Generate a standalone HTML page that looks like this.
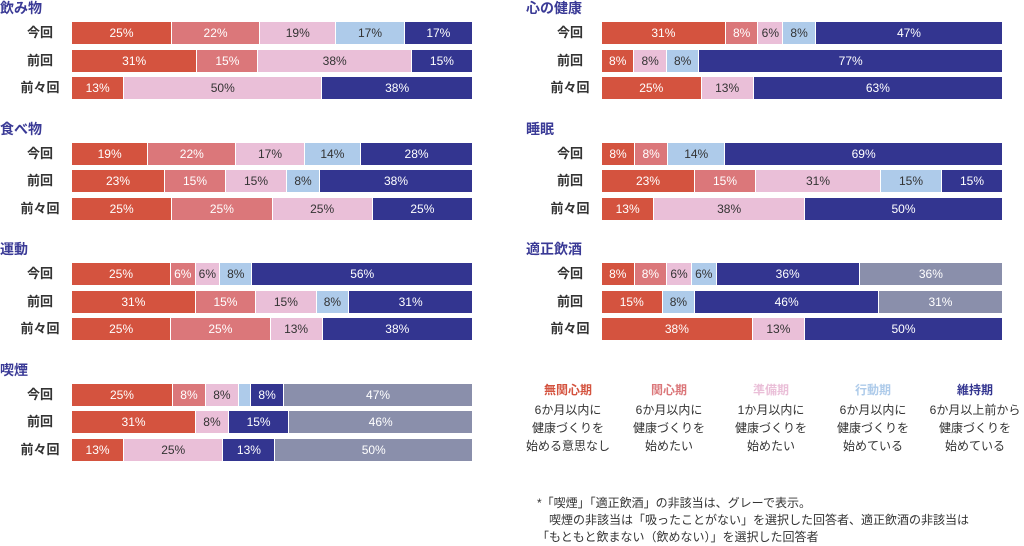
<!DOCTYPE html>
<html><head><meta charset="utf-8">
<style>
body{margin:0;width:1024px;height:545px;background:#fff;position:relative;overflow:hidden;font-family:"Liberation Sans","Noto Sans CJK JP",sans-serif;}
.t{position:absolute;font-size:14px;font-weight:bold;color:#3a3a96;line-height:16px}
.lab{position:absolute;width:60px;text-align:center;font-size:13px;font-weight:bold;color:#333;line-height:22px}
.bar{position:absolute;height:22px;display:flex;width:400px}
.bar div{height:22px;line-height:22px;text-align:center;font-size:12px;color:#fff;box-sizing:border-box;border-right:1px solid #fff;overflow:hidden;white-space:nowrap}
.bar div:last-child{border-right:none}
.r{background:#d4533f}.p{background:#db777a}.lp{background:#eabfd8;color:#333!important}.lb{background:#aecbea;color:#333!important}.n{background:#333590}.g{background:#8a8fab}
.lg{position:absolute;width:110px;text-align:center;font-size:12px;color:#333;line-height:18px}
.lg b{display:block;font-weight:bold;margin-bottom:2px}
.fn{position:absolute;left:537px;font-size:12px;color:#333;line-height:18px}
</style></head><body>
<div id="c"></div>
<div class="lg" style="left:513px;top:381px"><b style="color:#d4533f">無関心期</b>6か月以内に<br>健康づくりを<br>始める意思なし</div>
<div class="lg" style="left:614px;top:381px"><b style="color:#db777a">関心期</b>6か月以内に<br>健康づくりを<br>始めたい</div>
<div class="lg" style="left:716px;top:381px"><b style="color:#eabfd8">準備期</b>1か月以内に<br>健康づくりを<br>始めたい</div>
<div class="lg" style="left:818px;top:381px"><b style="color:#aecbea">行動期</b>6か月以内に<br>健康づくりを<br>始めている</div>
<div class="lg" style="left:920px;top:381px"><b style="color:#333590">維持期</b>6か月以上前から<br>健康づくりを<br>始めている</div>
<div class="fn" style="top:494px">*「喫煙」「適正飲酒」の非該当は、グレーで表示。</div>
<div class="fn" style="top:511px">　喫煙の非該当は「吸ったことがない」を選択した回答者、適正飲酒の非該当は</div>
<div class="fn" style="top:528px">「もともと飲まない（飲めない）」を選択した回答者</div>
<script>
var D=[
[0,0,"飲み物",[[[25,"r"],[22,"p"],[19,"lp"],[17,"lb"],[17,"n"]],[[31,"r"],[15,"p"],[38,"lp"],[15,"n"]],[[13,"r"],[50,"lp"],[38,"n"]]]],
[0,1,"食べ物",[[[19,"r"],[22,"p"],[17,"lp"],[14,"lb"],[28,"n"]],[[23,"r"],[15,"p"],[15,"lp"],[8,"lb"],[38,"n"]],[[25,"r"],[25,"p"],[25,"lp"],[25,"n"]]]],
[0,2,"運動",[[[25,"r"],[6,"p"],[6,"lp"],[8,"lb"],[56,"n"]],[[31,"r"],[15,"p"],[15,"lp"],[8,"lb"],[31,"n"]],[[25,"r"],[25,"p"],[13,"lp"],[38,"n"]]]],
[0,3,"喫煙",[[[25,"r"],[8,"p"],[8,"lp"],[2.8,"lb",""],[8,"n"],[47,"g"]],[[31,"r"],[8,"lp"],[15,"n"],[46,"g"]],[[13,"r"],[25,"lp"],[13,"n"],[50,"g"]]]],
[1,0,"心の健康",[[[31,"r"],[8,"p"],[6,"lp"],[8,"lb"],[47,"n"]],[[8,"r"],[8,"lp"],[8,"lb"],[77,"n"]],[[25,"r"],[13,"lp"],[63,"n"]]]],
[1,1,"睡眠",[[[8,"r"],[8,"p"],[14,"lb"],[69,"n"]],[[23,"r"],[15,"p"],[31,"lp"],[15,"lb"],[15,"n"]],[[13,"r"],[38,"lp"],[50,"n"]]]],
[1,2,"適正飲酒",[[[8,"r"],[8,"p"],[6,"lp"],[6,"lb"],[36,"n"],[36,"g"]],[[15,"r"],[8,"lb"],[46,"n"],[31,"g"]],[[38,"r"],[13,"lp"],[50,"n"]]]]
];
var L=["今回","前回","前々回"],h="";
D.forEach(function(s){var x0=s[0]?530:0,T=s[1]*120.5;
h+='<div class="t" style="left:'+(s[0]?526:0)+'px;top:'+(T+0)+'px">'+s[2]+'</div>';
s[3].forEach(function(row,i){var y=T+22+i*27.5;
h+='<div class="lab" style="left:'+(x0+10)+'px;top:'+y+'px">'+L[i]+'</div><div class="bar" style="left:'+(x0+72)+'px;top:'+y+'px">';
row.forEach(function(sg){h+='<div class="'+sg[1]+'" style="flex:'+sg[0]+' 0 0">'+(sg.length>2?sg[2]:sg[0]+'%')+'</div>';});
h+='</div>';});});
document.getElementById("c").innerHTML=h;
</script>
</body></html>
